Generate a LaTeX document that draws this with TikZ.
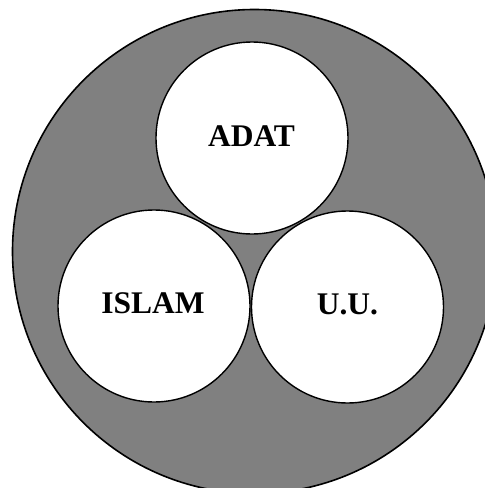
\documentclass[tikz,border=0pt]{standalone}
\usepackage{fontspec}
\setmainfont{Liberation Serif}
\begin{document}
\begin{tikzpicture}[x=1pt,y=-1pt,
  inner/.style={circle,draw=black,line width=1.4pt,fill=white,minimum size=192pt,inner sep=0pt},
  lbl/.style={font=\fontsize{31.5}{36}\selectfont\bfseries,anchor=base,inner sep=0pt}]
\useasboundingbox (0,0) rectangle (485,488);
\begin{scope}
\clip (0,0) rectangle (485,488);
\node[circle,draw=black,line width=1.6pt,fill={rgb,255:red,128;green,128;blue,128},minimum size=484pt,inner sep=0pt] (outer) at (254.5,251.5) {};
\end{scope}
\node[inner] (adat) at (252,138) {};
\node[inner] (islam) at (154,306) {};
\node[inner] (uu) at (347.5,307) {};
\node[lbl] (tadat) at (251.5,146.5) {ADAT};
\node[lbl] (tislam) at (153,313) {ISLAM};
\node[lbl] (tuu) at (347.5,314) {U.U.};
\end{tikzpicture}
\end{document}
